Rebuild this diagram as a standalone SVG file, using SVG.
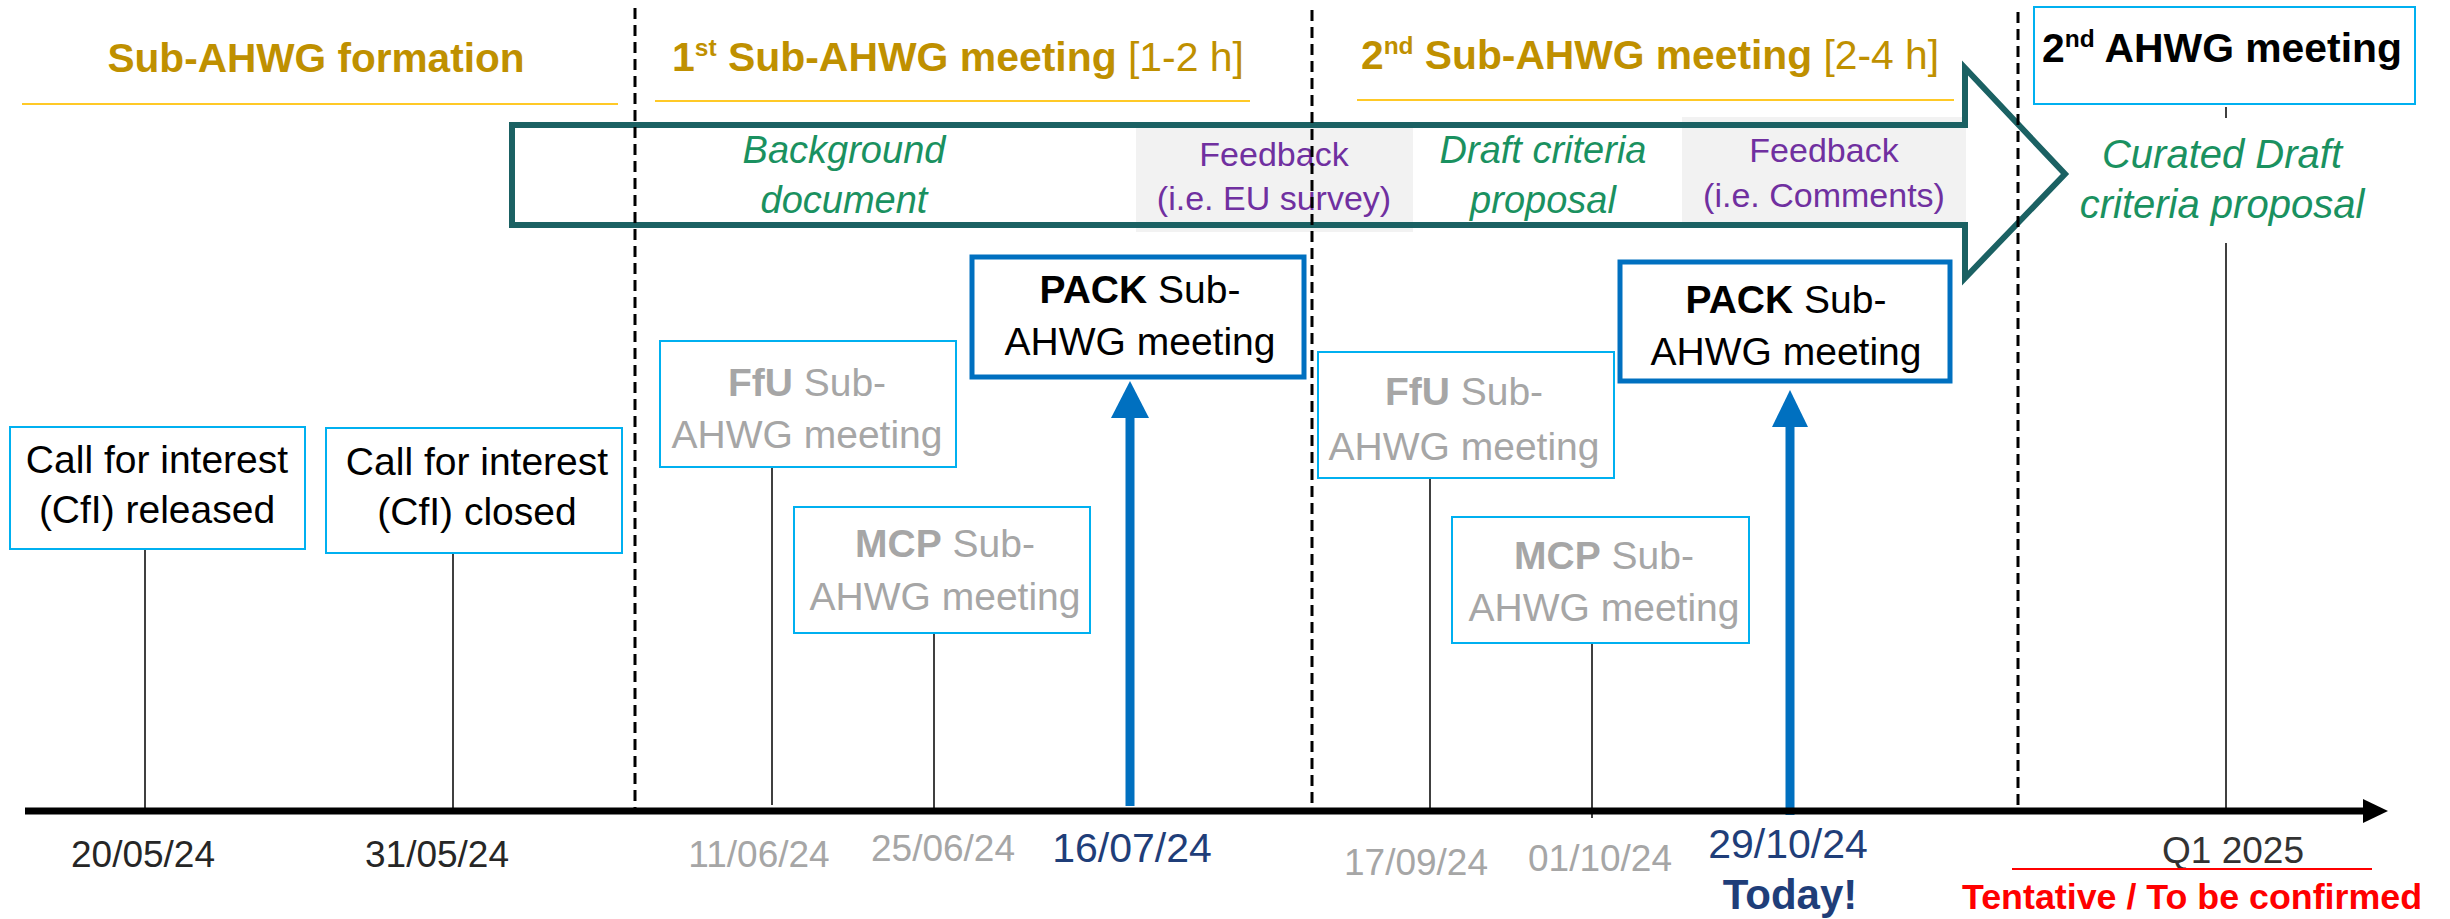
<svg xmlns="http://www.w3.org/2000/svg" width="2450" height="919" viewBox="0 0 2450 919">
<defs>
<style>
text{font-family:"Liberation Sans",Arial,sans-serif}
.hdr{font-size:40px;font-weight:bold;fill:#BF9000}
.hdrn{font-weight:normal}
.sup{font-size:24px}
.uline{stroke:#FFC926;stroke-width:2}
.dash{stroke:#000;stroke-width:3;stroke-dasharray:11 6}
.stem{stroke:#000;stroke-width:1.5}
.lbox{fill:#fff;stroke:#00B0F0;stroke-width:2}
.pbox{fill:#fff;stroke:#0070C0;stroke-width:5}
.bt{font-size:39px;fill:#000;text-anchor:middle}
.gt{font-size:39px;fill:#A6A6A6;text-anchor:middle}
.b{font-weight:bold}
.grn{font-size:38px;font-style:italic;fill:#1A9160;text-anchor:middle}
.pur{font-size:34px;fill:#7030A0;text-anchor:middle}
.fbbox{fill:#F2F2F2}
.date{font-size:37px;fill:#262626;text-anchor:middle}
.dgrey{font-size:37px;fill:#A6A6A6;text-anchor:middle}
.dnavy{font-size:41px;fill:#1F3E79;text-anchor:middle}
.blue{stroke:#0070C0;stroke-width:9}
</style>
</defs>
<rect width="2450" height="919" fill="#fff"/>

<!-- phase headers -->
<g id="phase-formation">
<text class="hdr" x="316" y="72" text-anchor="middle" textLength="417" lengthAdjust="spacingAndGlyphs">Sub-AHWG formation</text>
<line class="uline" x1="22" y1="104" x2="618" y2="104"/>
</g>
<g id="phase-meeting1">
<text class="hdr" x="672" y="71" textLength="572" lengthAdjust="spacingAndGlyphs">1<tspan class="sup" dy="-15">st</tspan><tspan dy="15"> Sub-AHWG meeting</tspan><tspan class="hdrn"> [1-2 h]</tspan></text>
<line class="uline" x1="655" y1="101" x2="1250" y2="101"/>
</g>
<g id="phase-meeting2">
<text class="hdr" x="1361" y="69" textLength="578" lengthAdjust="spacingAndGlyphs">2<tspan class="sup" dy="-15">nd</tspan><tspan dy="15"> Sub-AHWG meeting</tspan><tspan class="hdrn"> [2-4 h]</tspan></text>
<line class="uline" x1="1357" y1="100" x2="1954" y2="100"/>
</g>
<g id="ahwg2">
<rect class="lbox" x="2034" y="7" width="381" height="97"/>
<text x="2042" y="62" style="font-size:40px;font-weight:bold;fill:#000" textLength="360" lengthAdjust="spacingAndGlyphs">2<tspan class="sup" dy="-15">nd</tspan><tspan dy="15"> AHWG meeting</tspan></text>
</g>

<!-- process arrow -->
<g id="process-arrow">
<rect class="fbbox" x="1136" y="127" width="277" height="105"/>
<rect class="fbbox" x="1682" y="117" width="284" height="105"/>
<path d="M512,125 H1965 V68 L2065,174 L1965,278 V225 H512 Z" fill="none" stroke="#1B6163" stroke-width="6" stroke-linejoin="miter"/>
</g>
<g id="background-doc">
<text class="grn" x="844" y="163">Background</text>
<text class="grn" x="844" y="213">document</text>
</g>
<g id="feedback-survey">
<text class="pur" x="1274" y="166">Feedback</text>
<text class="pur" x="1274" y="210">(i.e. EU survey)</text>
</g>
<g id="draft-criteria">
<text class="grn" x="1543" y="163">Draft criteria</text>
<text class="grn" x="1543" y="213">proposal</text>
</g>
<g id="feedback-comments">
<text class="pur" x="1824" y="162">Feedback</text>
<text class="pur" x="1824" y="207">(i.e. Comments)</text>
</g>
<g id="curated-draft">
<text class="grn" x="2222" y="168" style="font-size:40px">Curated Draft</text>
<text class="grn" x="2222" y="218" style="font-size:40px">criteria proposal</text>
</g>

<!-- connectors -->
<g id="connectors">
<line class="dash" x1="635" y1="8" x2="635" y2="808"/>
<line class="dash" x1="1312" y1="10" x2="1312" y2="808"/>
<line class="dash" x1="2018" y1="12" x2="2018" y2="808"/>
<line class="stem" x1="145" y1="549" x2="145" y2="811"/>
<line class="stem" x1="453" y1="553" x2="453" y2="811"/>
<line class="stem" x1="772" y1="467" x2="772" y2="805"/>
<line class="stem" x1="934" y1="633" x2="934" y2="811"/>
<line class="stem" x1="1430" y1="478" x2="1430" y2="811"/>
<line class="stem" x1="1592" y1="643" x2="1592" y2="818"/>
<line class="stem" x1="2226" y1="107" x2="2226" y2="118"/>
<line class="stem" x1="2226" y1="243" x2="2226" y2="811"/>
<line class="blue" x1="1130" y1="806" x2="1130" y2="414"/>
<polygon points="1130,381 1149,418 1111,418" fill="#0070C0"/>
<line class="blue" x1="1790" y1="815" x2="1790" y2="424"/>
<polygon points="1790,390 1808,427 1772,427" fill="#0070C0"/>
<line x1="25" y1="811" x2="2366" y2="811" stroke="#000" stroke-width="7"/>
<polygon points="2363,799 2388,811 2363,823" fill="#000"/>
</g>

<!-- event nodes -->
<g id="cfi-released">
<rect class="lbox" x="10" y="427" width="295" height="122"/>
<text class="bt" x="157" y="473">Call for interest</text>
<text class="bt" x="157" y="523">(CfI) released</text>
</g>
<g id="cfi-closed">
<rect class="lbox" x="326" y="428" width="296" height="125"/>
<text class="bt" x="477" y="475">Call for interest</text>
<text class="bt" x="477" y="525">(CfI) closed</text>
</g>
<g id="ffu-1">
<rect class="lbox" x="660" y="341" width="296" height="126"/>
<text class="gt" x="807" y="396"><tspan class="b">FfU</tspan> Sub-</text>
<text class="gt" x="807" y="448">AHWG meeting</text>
</g>
<g id="mcp-1">
<rect class="lbox" x="794" y="507" width="296" height="126"/>
<text class="gt" x="945" y="557"><tspan class="b">MCP</tspan> Sub-</text>
<text class="gt" x="945" y="610">AHWG meeting</text>
</g>
<g id="pack-1">
<rect class="pbox" x="972" y="257" width="332" height="120"/>
<text class="bt" x="1140" y="303"><tspan class="b">PACK</tspan> Sub-</text>
<text class="bt" x="1140" y="355">AHWG meeting</text>
</g>
<g id="ffu-2">
<rect class="lbox" x="1318" y="352" width="296" height="126"/>
<text class="gt" x="1464" y="405"><tspan class="b">FfU</tspan> Sub-</text>
<text class="gt" x="1464" y="460">AHWG meeting</text>
</g>
<g id="mcp-2">
<rect class="lbox" x="1452" y="517" width="297" height="126"/>
<text class="gt" x="1604" y="569"><tspan class="b">MCP</tspan> Sub-</text>
<text class="gt" x="1604" y="621">AHWG meeting</text>
</g>
<g id="pack-2">
<rect class="pbox" x="1620" y="262" width="330" height="119"/>
<text class="bt" x="1786" y="313"><tspan class="b">PACK</tspan> Sub-</text>
<text class="bt" x="1786" y="365">AHWG meeting</text>
</g>

<!-- dates -->
<g id="dates">
<text class="date" x="143" y="867">20/05/24</text>
<text class="date" x="437" y="867">31/05/24</text>
<text class="dgrey" x="759" y="867">11/06/24</text>
<text class="dgrey" x="943" y="861">25/06/24</text>
<text class="dnavy" x="1132" y="862">16/07/24</text>
<text class="dgrey" x="1416" y="875">17/09/24</text>
<text class="dgrey" x="1600" y="871">01/10/24</text>
<text class="dnavy" x="1788" y="858">29/10/24</text>
<text x="1790" y="909" style="font-size:42px;font-weight:bold;fill:#1F3E79;text-anchor:middle">Today!</text>
<text class="date" x="2233" y="863" style="fill:#333">Q1 2025</text>
<line x1="2012" y1="869" x2="2372" y2="869" stroke="#FF0000" stroke-width="2"/>
<text x="1962" y="909" style="font-size:35px;font-weight:bold;fill:#FF0000" textLength="460" lengthAdjust="spacingAndGlyphs">Tentative / To be confirmed</text>
</g>
</svg>
